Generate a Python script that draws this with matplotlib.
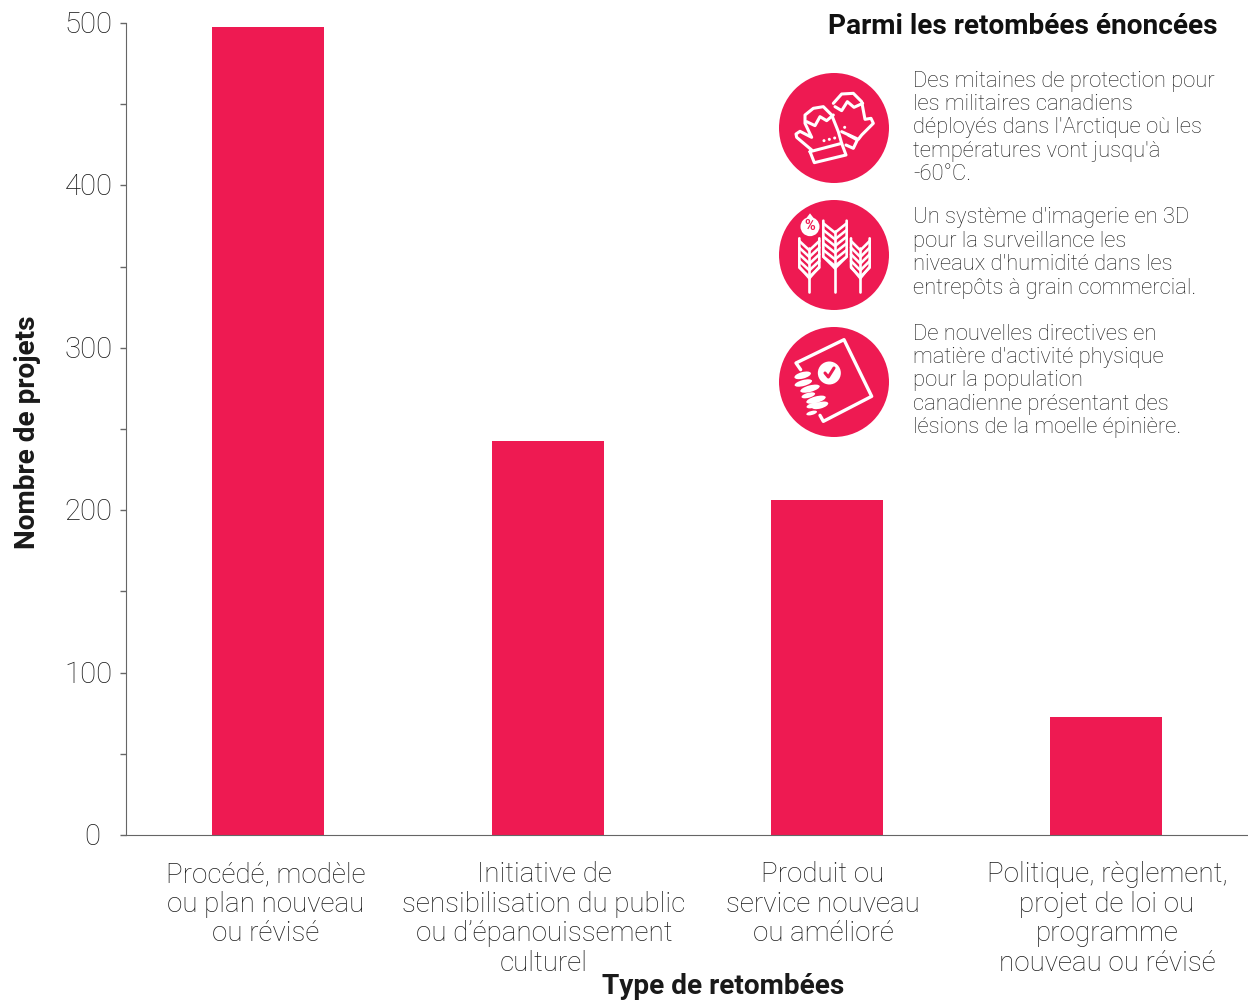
import matplotlib
matplotlib.use("Agg")
import matplotlib.pyplot as plt
from matplotlib.patches import Circle, Ellipse, Polygon
from matplotlib.transforms import ScaledTranslation

plt.rcParams["font.family"] = ["Roboto", "DejaVu Sans"]

# Data
categories = [
    "Procédé, modèle\nou plan nouveau\nou révisé",
    "Initiative de\nsensibilisation du public\nou d’épanouissement\nculturel",
    "Produit ou\nservice nouveau\nou amélioré",
    "Politique, règlement,\nprojet de loi ou\nprogramme\nnouveau ou révisé",
]
values = [497.5, 242.5, 206, 72.5]
y_major = [0, 100, 200, 300, 400, 500]
y_minor = [50, 150, 250, 350, 450]
notes = [
    "Des mitaines de protection pour\nles militaires canadiens\ndéployés dans l'Arctique où les\ntempératures vont jusqu'à\n-60°C.",
    "Un système d'imagerie en 3D\npour la surveillance les\nniveaux d'humidité dans les\nentrepôts à grain commercial.",
    "De nouvelles directives en\nmatière d'activité physique\npour la population\ncanadienne présentant des\nlésions de la moelle épinière.",
]

RED = "#EE1A52"
GREY = "#666666"
TEXT = "#1a1a1a"
W, H = 1248, 1000

fig = plt.figure(figsize=(W / 100, H / 100), dpi=100)
ax = fig.add_axes([126 / W, 1 - 835 / H, (W - 126) / W, (835 - 23) / H])
ax.bar(range(4), values, width=0.401, color=RED)
ax.set_xlim(-0.51, 3.507)
ax.set_ylim(0, 500)
ax.set_yticks(y_major)
ax.set_yticks(y_minor, minor=True)
ax.set_xticks([])
ax.tick_params(axis="y", which="both", length=4.5, width=1, color=GREY, pad=5)
ax.tick_params(axis="y", labelsize=21.2, labelcolor=TEXT)
for val, lab in zip(y_major, ax.get_yticklabels()):
    lab.set_fontweight("light")
    # labels sit a little above their ticks, the 0 also further left
    dx = -13 if val == 0 else 0
    lab.set_transform(lab.get_transform() + ScaledTranslation(dx / 100, 1 / 100, fig.dpi_scale_trans))
ax.spines[["top", "right"]].set_visible(False)
ax.spines[["left", "bottom"]].set_color(GREY)

# overlay in pixel coordinates for texts and icons
ov = fig.add_axes([0, 0, 1, 1])
ov.set_xlim(0, W)
ov.set_ylim(H, 0)
ov.axis("off")

label_x = [266, 544, 823, 1107]
for x, lab in zip(label_x, categories):
    ov.text(x, 861, lab, ha="center", va="top", fontsize=20, color=TEXT,
            fontweight="light", linespacing=1.13)
ov.text(723, 987, "Type de retombées", ha="center", va="center", fontsize=20.2, fontweight="bold", color=TEXT)
ov.text(28, 432, "Nombre de projets", ha="center", va="center", rotation=90, fontsize=20.2, fontweight="bold", color=TEXT)
ov.text(1218, 27, "Parmi les retombées énoncées", ha="right", va="center", fontsize=20.2, fontweight="bold", color="#111111")

note_y = [70.5, 207.5, 323.5]
for y, note in zip(note_y, notes):
    ov.text(913, y, note, ha="left", va="top", fontsize=15.85, color=TEXT,
            fontweight="light", linespacing=1.155)

# icons, drawn from the zoomed crop coordinates
def conv(pts, ox, oy):
    return [(ox + px / 3, oy + py / 3) for px, py in pts]

def stroke(pts, ox, oy, lw=2.2, closed=False):
    p = conv(pts, ox, oy)
    if closed:
        p = p + [p[0]]
    ov.plot([a for a, b in p], [b for a, b in p], color="white", lw=lw,
            solid_joinstyle="round", solid_capstyle="round")

for cy in [128, 255, 382]:
    ov.add_patch(Circle((834, cy), 55, color=RED, lw=0))

# mittens
ox, oy = 770, 60
stroke([(125, 270), (80, 232), (78, 222), (90, 214), (125, 232), (105, 190), (105, 165), (130, 145),
        (160, 140), (185, 165), (205, 215), (215, 250)], ox, oy)
stroke([(120, 275), (215, 250), (228, 285), (133, 308)], ox, oy, closed=True)
stroke([(110, 185), (135, 197), (150, 170), (170, 182), (190, 165)], ox, oy)
stroke([(190, 130), (215, 102), (250, 100), (275, 125), (285, 178), (303, 175), (310, 190), (275, 225),
        (265, 238), (215, 215)], ox, oy)
stroke([(235, 225), (262, 240), (250, 265), (228, 255)], ox, oy)
stroke([(195, 140), (215, 152), (232, 125), (252, 142), (278, 130)], ox, oy)
for pt in [(162, 242), (178, 238), (194, 234), (224, 202)]:
    x, y = conv([pt], ox, oy)[0]
    ov.add_patch(Circle((x, y), 1.5, color="white", lw=0))

# wheat
ox, oy = 770, 190
for sx, top, side, half, rows in [(118, 145, 85, 30, 5), (195, 92, 108, 35, 6), (271, 145, 85, 28, 5)]:
    stroke([(sx, top + 30), (sx, 305)], ox, oy, lw=1.9)
    stroke([(sx - half, top), (sx - half, top + side), (sx, top + side + 35)], ox, oy, lw=1.9)
    stroke([(sx + half, top), (sx + half, top + side), (sx, top + side + 35)], ox, oy, lw=1.9)
    for k in range(rows):
        dy = top + 20 + k * 20
        stroke([(sx - half, dy - 12), (sx, dy + 16), (sx + half, dy - 12)], ox, oy, lw=1.9)
dx, dy = conv([(120, 110)], ox, oy)[0]
ov.add_patch(Circle((dx, dy), 9.5, color="white", lw=0))
ov.add_patch(Polygon(conv([(120, 70), (97, 100), (143, 100)], ox, oy), color="white", lw=0))
ov.text(dx, dy - 0.5, "%", ha="center", va="center", fontsize=10.5, fontweight="bold", color=RED)

# spine and guide
ox, oy = 770, 318
stroke([(92, 155), (78, 135), (222, 65), (305, 235), (160, 310), (150, 292)], ox, oy, lw=2.4)
cx, cy = conv([(178, 165)], ox, oy)[0]
ov.add_patch(Circle((cx, cy), 11.5, color="white", lw=0))
stroke([(165, 165), (175, 177), (192, 150)], ox, oy)
ov.lines[-1].set_color(RED)
for pt, wd, ht in [((98, 172), 17, 6.5), ((100, 195), 18, 6), ((120, 212), 20, 6.5), ((115, 232), 14, 5),
                   ((138, 245), 20, 6.5), ((130, 262), 14, 5), ((150, 262), 17, 6.5), ((125, 285), 11, 4)]:
    x, y = conv([pt], ox, oy)[0]
    ov.add_patch(Ellipse((x, y), wd, ht, angle=-15, color="white", lw=0))

fig.savefig("out.png", dpi=100)
